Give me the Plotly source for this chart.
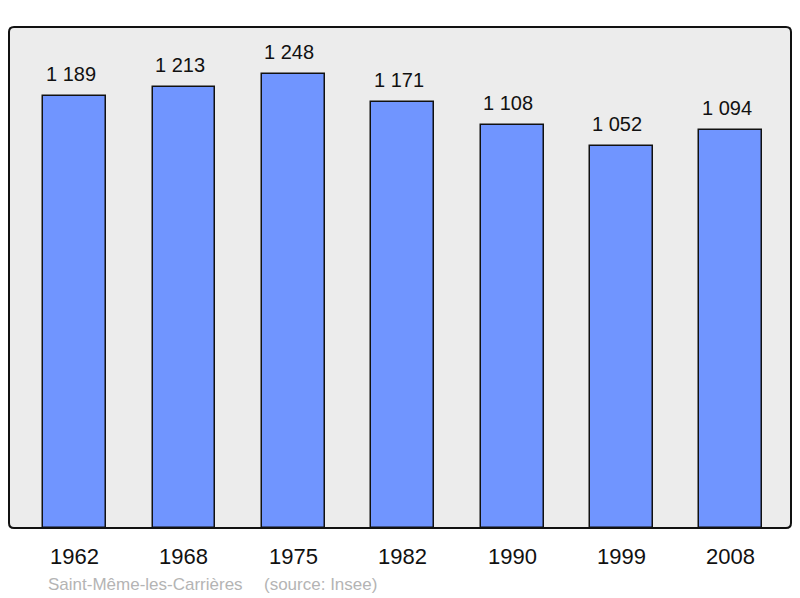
import plotly.graph_objects as go

years = ["1962", "1968", "1975", "1982", "1990", "1999", "2008"]
population = [1189, 1213, 1248, 1171, 1108, 1052, 1094]
value_labels = ["1 189", "1 213", "1 248", "1 171", "1 108", "1 052", "1 094"]
commune = "Saint-Même-les-Carrières"
source = "(source: Insee)"

W, H = 800, 598
L, R, T, B = 9, 9, 27, 70
pw, ph = W - L - R, H - T - B
FONT = "Liberation Sans, Arial, sans-serif"

xs = list(range(len(years)))

fig = go.Figure()
fig.add_trace(go.Bar(
    x=xs, y=population, width=0.575,
    marker=dict(color="#7095ff", line=dict(color="#111111", width=1.5)),
    hoverinfo="skip",
))

for x, v, lab in zip(xs, population, value_labels):
    fig.add_annotation(x=x, y=v, xref="x", yref="y", text=lab, showarrow=False,
                       yanchor="bottom", yshift=9, xshift=-4,
                       font=dict(family=FONT, size=20, color="#111111"))
for x, yr in zip(xs, years):
    fig.add_annotation(x=x, y=0, xref="x", yref="y", text=yr, showarrow=False,
                       yanchor="middle", yshift=-28,
                       font=dict(family=FONT, size=22, color="#111111"))

fy = (H - B - 584) / ph
fig.add_annotation(x=(46 - L) / pw, y=fy, xref="paper", yref="paper", text=commune,
                   showarrow=False, xanchor="left", yanchor="middle",
                   font=dict(family=FONT, size=17, color="#b4b4b4"))
fig.add_annotation(x=(262 - L) / pw, y=fy, xref="paper", yref="paper", text=source,
                   showarrow=False, xanchor="left", yanchor="middle",
                   font=dict(family=FONT, size=17, color="#b4b4b4"))

# rounded border around plot area (paper coords)
rx, ry = 5 / pw, 5 / ph
path = (f"M {rx},0 L {1-rx},0 Q 1,0 1,{ry} L 1,{1-ry} Q 1,1 {1-rx},1 "
        f"L {rx},1 Q 0,1 0,{1-ry} L 0,{ry} Q 0,0 {rx},0 Z")
fig.add_shape(type="path", path=path, xref="paper", yref="paper",
              line=dict(color="#111111", width=2), layer="above")

fig.update_layout(
    width=W, height=H,
    margin=dict(l=L, r=R, t=T, b=B, pad=0),
    paper_bgcolor="white", plot_bgcolor="#ececec",
    showlegend=False,
    xaxis=dict(range=[-0.60, 6.55], showticklabels=False, showgrid=False, zeroline=False, ticks=""),
    yaxis=dict(range=[0, 1378], showticklabels=False, showgrid=False, zeroline=False, ticks=""),
    bargap=0,
)

fig.write_html("out.html", config={"displayModeBar": False},
               post_script="document.body.style.margin='0';document.body.style.overflow='hidden';")
